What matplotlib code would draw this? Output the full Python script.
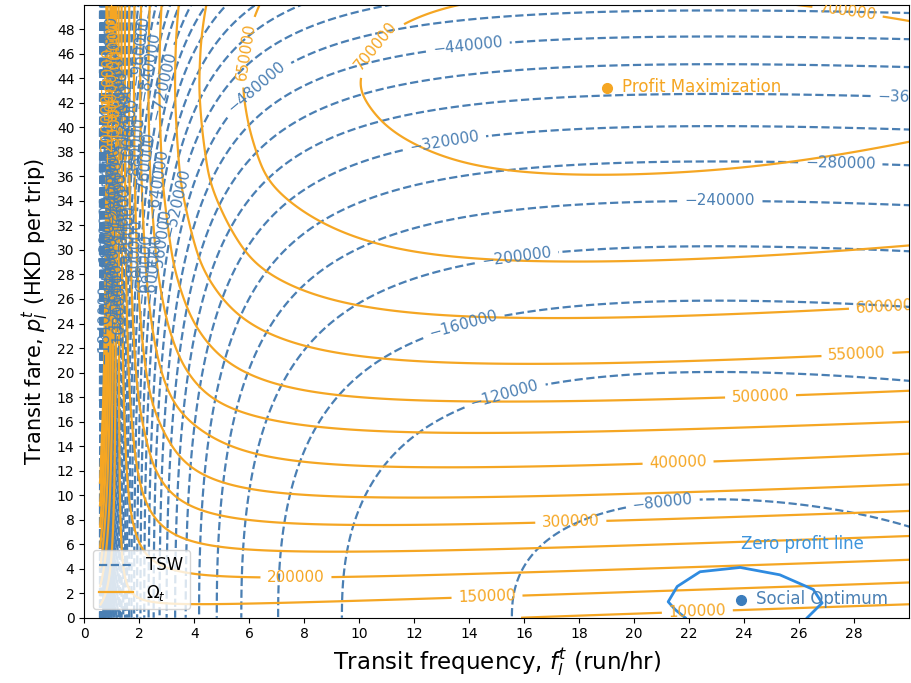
import numpy as np
import matplotlib
matplotlib.use("Agg")
import matplotlib.pyplot as plt
from matplotlib.lines import Line2D

# ---------------- values ----------------
# Total social welfare (TSW): model fitted to the read contour crossings
TSW_CONST = 42000.0
TSW_WAIT = 1.302e6      # coefficient of 1/f
TSW_OPER = 2462.0       # coefficient of f
TSW_FARE = 42.5         # coefficient of p**TSW_FARE_EXP
TSW_FARE_EXP = 2.35
tsw_levels = list(range(-2720000, -79999, 40000))

# Omega_t: profile read along the column f = 19 (fare -> value)
omega_ref_f = 19.0
omega_prof_p = [0.0, 0.25, 2.0, 3.9, 5.8, 7.9, 10.0, 12.4, 15.3, 17.6, 20.7,
                24.4, 28.9, 35.8, 40.0, 43.3, 47.0, 50.0, 53.0]
omega_prof_v = [93000, 100000, 150000, 200000, 250000, 300000, 350000,
                400000, 450000, 500000, 550000, 600000, 650000, 700000,
                713000, 719000, 715000, 705000, 690000]
OMEGA_OPER = 2250.0
OMEGA_KAPPA = 1.30
omega_levels = list(range(-200000, 700001, 50000))

# points and the zero-profit line
profit_max = (19.0, 43.2)
social_opt = (23.9, 1.45)
zero_profit_f = [21.86, 21.5, 21.24, 21.57, 22.4, 23.86, 25.3, 26.52, 26.84, 26.3]
zero_profit_p = [0.0, 0.65, 1.3, 2.55, 3.75, 4.1, 3.5, 2.3, 1.2, 0.0]

# label positions (data coords) for contour labels
tsw_label_pos = {-80000: [(21.0, 10.3)], -120000: [(15.4, 17.3)], -160000: [(14.0, 22.1)],
                 -200000: [(15.7, 29.8)], -240000: [(23.1, 33.7)], -280000: [(27.5, 37.0)],
                 -320000: [(13.1, 38.7)], -360000: [(30.15, 43.1)], -440000: [(13.9, 47.7)],
                 -480000: [(6.3, 43.2)], -520000: [(3.4, 33.8)], -560000: [(2.9, 30.5)],
                 -600000: [(2.5, 28.5)]}
tsw_unlabelled = [-400000] + list(range(-2720000, -1840000, 40000))
omega_label_pos = {100000: [(22.3, 0.6)], 150000: [(14.65, 1.7)], 200000: [(7.7, 3.4)],
                   300000: [(17.7, 7.7)], 400000: [(21.6, 12.6)], 500000: [(24.6, 18.1)],
                   550000: [(28.1, 21.8)], 600000: [(29.1, 25.7)], 650000: [(5.8, 46.2)],
                   700000: [(10.8, 46.3), (27.75, 49.2)]}
omega_unlabelled = [250000, 350000, 450000]

xticks = list(range(0, 29, 2))
yticks = list(range(0, 49, 2))

# ---------------- surfaces ----------------
f = np.concatenate([np.linspace(0.57, 3.0, 800, endpoint=False),
                    np.linspace(3.0, 32.0, 700)])
p = np.linspace(0.0, 53.0, 600)
F, P = np.meshgrid(f, p)

TSW = (TSW_CONST - TSW_WAIT / F - TSW_OPER * F - TSW_FARE * P ** TSW_FARE_EXP)

# smooth version of the read Omega profile along p
prof = np.interp(p, omega_prof_p, omega_prof_v)
dp = p[1] - p[0]
half = int(round(3.0 / dp))
kx = np.arange(-half, half + 1) * dp
kern = np.exp(-0.5 * (kx / 1.0) ** 2)
kern /= kern.sum()
padded = np.pad(prof, half, mode='reflect', reflect_type='odd')
prof_s = np.convolve(padded, kern, mode='valid')
om_ref = np.repeat(prof_s[:, None], len(f), axis=1)
OMEGA = (om_ref - OMEGA_OPER * (F - omega_ref_f)
         + OMEGA_KAPPA * (1.0 / omega_ref_f - 1.0 / F) * (om_ref - prof_s[0]))

# ---------------- figure ----------------
C_TSW = '#4a7fb3'
C_OM = '#f5a623'
C_ZP = '#2f8be0'

fig = plt.figure(figsize=(9.12, 6.83), dpi=100)
ax = fig.add_axes([0.0924, 0.0956, 0.9043, 0.8974])

def fmt(v):
    return f"{v:.0f}".replace('-', '\u2212')

def draw(Z, levels, labelled, unlabelled, color, ls, auto_pos):
    quiet = [l for l in levels if l in unlabelled]
    rest = [l for l in levels if l not in labelled and l not in unlabelled]
    if quiet:
        ax.contour(F, P, Z, levels=quiet, colors=color, linestyles=ls, linewidths=1.6)
    for i, lev in enumerate(rest):
        c = ax.contour(F, P, Z, levels=[lev], colors=color, linestyles=ls,
                       linewidths=1.6)
        try:
            ax.clabel(c, inline=True, fontsize=11, fmt=fmt, manual=[auto_pos(i)])
        except Exception:
            pass
    for lev, pos in labelled.items():
        c = ax.contour(F, P, Z, levels=[lev], colors=color, linestyles=ls, linewidths=1.6)
        ax.clabel(c, inline=True, fontsize=11, fmt=fmt, manual=pos)

draw(TSW, tsw_levels, tsw_label_pos, tsw_unlabelled, C_TSW, '--',
     auto_pos=lambda i: (0.95, 24.0 + (i * 7.3) % 23.0))
draw(OMEGA, omega_levels, omega_label_pos, omega_unlabelled, C_OM, '-',
     auto_pos=lambda i: (0.9, 40.0 + (i * 3.7) % 9.0))

ax.plot(zero_profit_f, zero_profit_p, color=C_ZP, lw=2.0)
ax.plot([profit_max[0]], [profit_max[1]], 'o', color=C_OM, ms=7)
ax.text(profit_max[0] + 0.55, profit_max[1] + 0.1, 'Profit Maximization',
        color=C_OM, fontsize=12, va='center')
ax.plot([social_opt[0]], [social_opt[1]], 'o', color='#3b7dbd', ms=7)
ax.text(social_opt[0] + 0.55, social_opt[1] + 0.1, 'Social Optimum',
        color='#4a80b4', fontsize=12, va='center', clip_on=False)
ax.text(23.9, 6.0, 'Zero profit line', color='#3d94dc', fontsize=12, va='center')

ax.set_xlim(0, 30)
ax.set_ylim(0, 50)
ax.set_xticks(xticks)
ax.set_yticks(yticks)
ax.tick_params(labelsize=10)
ax.set_xlabel('Transit frequency, $f_l^t$ (run/hr)', fontsize=16.5)
ax.set_ylabel('Transit fare, $p_l^t$ (HKD per trip)', fontsize=15)

handles = [Line2D([], [], color=C_TSW, ls='--', lw=1.6),
           Line2D([], [], color=C_OM, ls='-', lw=1.6)]
ax.legend(handles, ['TSW', r'$\Omega_t$'], loc='lower left', fontsize=12)

fig.savefig('out.png', dpi=100)
